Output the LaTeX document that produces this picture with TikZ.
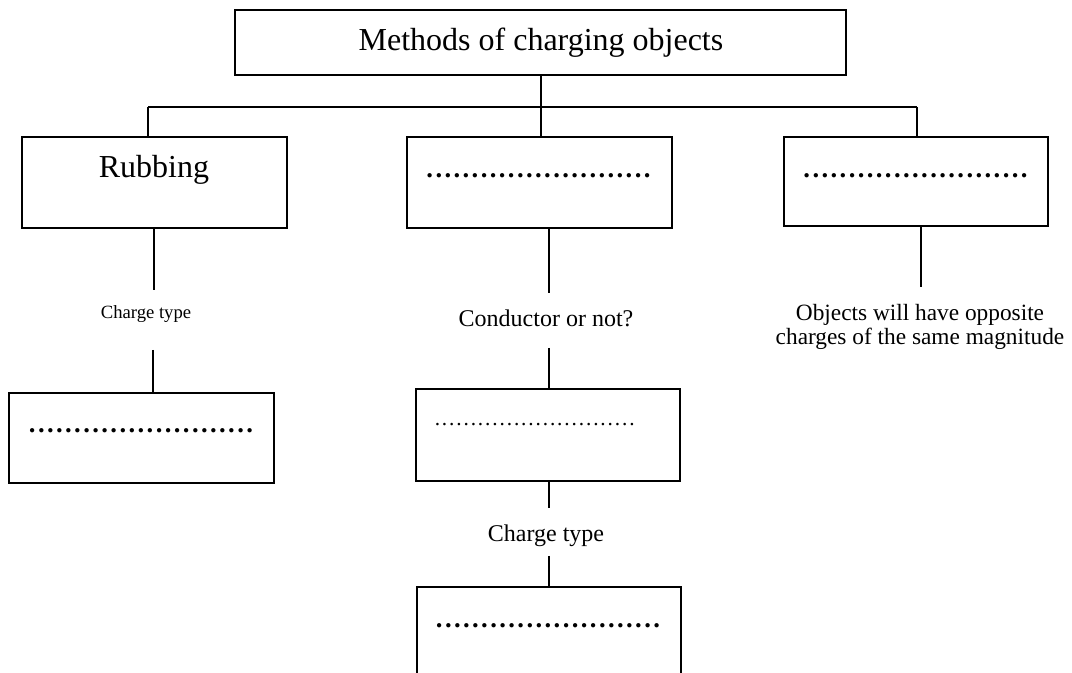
\documentclass[tikz,border=0pt]{standalone}
\usepackage{fontspec}
\setmainfont{Liberation Serif}
\newcommand\dotrow[2]{\hbox to \dimexpr #2*#1+0.1pt\relax{\xleaders\hbox to #2{\hss.\hss}\hfill}}
\tikzset{
  box/.style={draw, line width=1pt, inner sep=0pt, rectangle},
  conn/.style={line width=1pt},
  txt/.style={inner sep=0pt, anchor=base},
  big/.style={font=\fontsize{24}{28}\selectfont},
  mid/.style={font=\fontsize{18}{22}\selectfont},
  small/.style={font=\fontsize{14}{17}\selectfont},
  bigdots/.style={txt, font=\fontsize{20}{24}\selectfont\bfseries},
  smalldots/.style={txt, font=\fontsize{16}{19}\selectfont},
}
\begin{document}
\begin{tikzpicture}[x=0.75pt, y=-0.75pt]
\useasboundingbox (0,0) rectangle (1072,673);
% boxes
\node[box, minimum width=458.25pt, minimum height=48.75pt] (title) at (540.5,42.5) {};
\node[box, minimum width=198.75pt, minimum height=68.25pt] (rub) at (154.5,182.5) {};
\node[box, minimum width=198.75pt, minimum height=68.25pt] (midb) at (539.5,182.5) {};
\node[box, minimum width=198pt, minimum height=66.75pt] (rightb) at (916,181.5) {};
\node[box, minimum width=198.75pt, minimum height=67.5pt] (ll) at (141.5,438) {};
\node[box, minimum width=198pt, minimum height=69pt] (ml) at (548,435) {};
\node[box, minimum width=198pt, minimum height=84.75pt] (bot) at (549,643.5) {};
% texts
\node[txt, big] (titletxt) at (541,51) {Methods of charging objects};
\node[txt, big] (rubtxt) at (154,178) {Rubbing};
\node[bigdots] (d1) at (538.5,177.5) {\dotrow{25}{6.79pt}};
\node[bigdots] (d2) at (915.5,177.5) {\dotrow{25}{6.79pt}};
\node[bigdots] (d3) at (141,432.5) {\dotrow{25}{6.79pt}};
\node[smalldots] (d4) at (534.7,425.5) {\dotrow{28}{5.4pt}};
\node[bigdots] (d5) at (548,627.5) {\dotrow{25}{6.79pt}};
\node[txt, small] (ct1) at (146,319) {Charge type};
\node[txt, mid] (cond) at (546,327) {Conductor or not?};
\node[txt, mid] (ct2) at (546,542) {Charge type};
\node[inner sep=0pt, anchor=north, align=center, font=\fontsize{17.5}{18}\selectfont] (opp) at (920,304)
  {Objects will have opposite\\charges of the same magnitude};
% connector coordinates
\coordinate (t1) at (541,75);
\coordinate (busL) at (148,107);
\coordinate (busR) at (917,107);
\coordinate (a1) at (154,290);
\coordinate (a2) at (153,350);
\coordinate (m1) at (549,293);
\coordinate (m2) at (549,348);
\coordinate (m3) at (549,508);
\coordinate (m4) at (549,556);
\coordinate (r1) at (921,287);
% connectors
\draw[conn] (t1 |- title.south) -- (t1 |- midb.north);
\draw[conn] (busL) -- (busR);
\draw[conn] (busL) -- (busL |- rub.north);
\draw[conn] (busR) -- (busR |- rightb.north);
\draw[conn] (a1 |- rub.south) -- (a1);
\draw[conn] (a2) -- (a2 |- ll.north);
\draw[conn] (m1 |- midb.south) -- (m1);
\draw[conn] (m2) -- (m2 |- ml.north);
\draw[conn] (m3 |- ml.south) -- (m3);
\draw[conn] (m4) -- (m4 |- bot.north);
\draw[conn] (r1 |- rightb.south) -- (r1);
\end{tikzpicture}
\end{document}
